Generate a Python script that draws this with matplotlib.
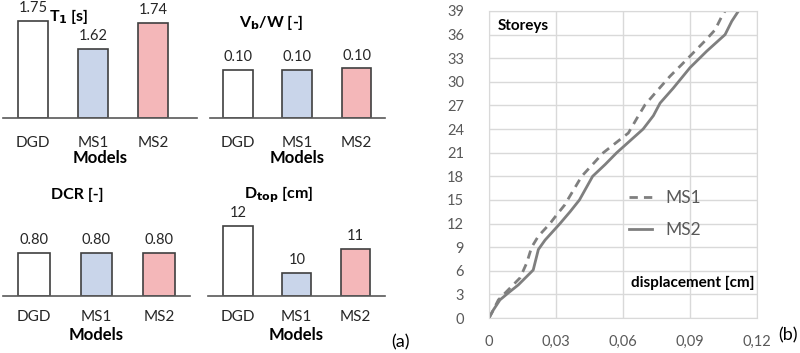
import numpy as np
import matplotlib
matplotlib.use("Agg")
import matplotlib.pyplot as plt

plt.rcParams['font.family'] = ['Lato', 'DejaVu Sans']

# bar chart data (panel a)
models = ['DGD', 'MS1', 'MS2']
t1 = [1.75, 1.62, 1.74]
vbw = [0.100, 0.101, 0.104]
dcr = [0.80, 0.80, 0.80]
dtop = [12, 10, 11]

# storey displacement profiles (panel b)
ms1_storey = [0, 1, 2.3, 3.8, 5.1, 7, 9, 10.4, 12, 13.1, 14.4, 15, 18, 21, 23.5, 25.5,
              27.1, 28.8, 30.7, 32.2, 33.7, 35.2, 36.6, 38.3, 39]
ms1_disp = [0, 0.0019, 0.0042, 0.0094, 0.0139, 0.0169, 0.0191, 0.0221, 0.0273, 0.0303,
            0.034, 0.0352, 0.0415, 0.0512, 0.0624, 0.0665, 0.0699, 0.0751, 0.081, 0.0863,
            0.0915, 0.0967, 0.1012, 0.1042, 0.1057]
ms2_storey = [0, 1, 2.3, 3.2, 4.2, 5.7, 6.1, 8.7, 9.9, 12, 13.5, 15, 18, 19.5, 21, 24,
              25.7, 27.3, 29.2, 31.8, 33.9, 36, 37.7, 39]
ms2_disp = [0, 0.0019, 0.0049, 0.0087, 0.0131, 0.0184, 0.0198, 0.0221, 0.0251, 0.0318,
            0.0363, 0.0405, 0.0464, 0.052, 0.0572, 0.069, 0.0736, 0.0766, 0.0825, 0.09,
            0.0975, 0.1057, 0.1087, 0.1117]

bar_colors = ['white', '#c9d5ea', '#f4b7b9']
edge = '#404040'

W, H = 800, 353
fig = plt.figure(figsize=(8, 3.53), dpi=100)


def px_axes(x0, y0, x1, y1):
    return fig.add_axes([x0 / W, 1 - y1 / H, (x1 - x0) / W, (y1 - y0) / H])


def bar_panel(rect, values, labels, ylim, xlim, title, title_xy, width=0.5, pad=9, lpad=0):
    ax = px_axes(*rect)
    x = np.arange(len(models))
    ax.bar(x, values, width=width, color=bar_colors, edgecolor=edge, linewidth=1.2)
    ax.set_ylim(*ylim)
    ax.set_xlim(*xlim)
    for xi, v, lab in zip(x, values, labels):
        ax.annotate(lab, (xi, v), xytext=(0, 4), textcoords='offset points',
                    ha='center', va='bottom', fontsize=10.5, color='#262626')
    for s in ['top', 'right', 'left']:
        ax.spines[s].set_visible(False)
    ax.spines['bottom'].set_color('#595959')
    ax.spines['bottom'].set_linewidth(1.2)
    ax.set_yticks([])
    ax.set_xticks(x)
    ax.set_xticklabels(models, fontsize=11, color='#262626')
    ax.tick_params(axis='x', length=0, pad=pad)
    ax.set_xlabel('Models', fontsize=12, fontweight='bold', labelpad=lpad)
    ax.patch.set_alpha(0)
    fig.text(title_xy[0] / W, 1 - title_xy[1] / H, title, ha='center', va='center',
             fontsize=11.5, fontweight='bold')
    return ax


def heights(vals, base):
    return [v - base for v in vals]


ax1 = bar_panel((3, 10, 197, 118), heights(t1, 1.3), ['%.2f' % v for v in t1],
                (0, 0.5), (-0.5, 2.73), r'T$_\mathbf{1}$ [s]', (69, 16), pad=13)
ax2 = bar_panel((210, 10, 385, 118), vbw, ['%.2f' % v for v in vbw],
                (0, 0.225), (-0.47, 2.48), r'V$_\mathbf{b}$/W [-]', (271, 22), pad=13)
ax3 = bar_panel((3, 188, 190, 296), dcr, ['%.2f' % v for v in dcr],
                (0, 2.0), (-0.5, 2.5), 'DCR [-]', (77, 195), width=0.51, pad=10, lpad=2)
ax4 = bar_panel((208, 188, 385, 296), heights(dtop, 9), ['%d' % v for v in dtop],
                (0, 4.6), (-0.51, 2.5), r'D$_\mathbf{top}$ [cm]', (279, 195), pad=10, lpad=2)

fig.text(400 / W, 1 - 342 / H, '(a)', ha='center', va='center', fontsize=13)
fig.text(788 / W, 1 - 335 / H, '(b)', ha='center', va='center', fontsize=13)

# panel b
axb = px_axes(489, 11, 757, 318)
axb.plot(ms1_disp, ms1_storey, color='#7f7f7f', linewidth=2, linestyle=(0, (3, 2.2)), label='MS1')
axb.plot(ms2_disp, ms2_storey, color='#7f7f7f', linewidth=2, label='MS2')
axb.set_xlim(0, 0.12)
axb.set_ylim(0, 39)
axb.set_xticks([0, 0.03, 0.06, 0.09, 0.12])
axb.set_xticklabels(['0', '0,03', '0,06', '0,09', '0,12'])
axb.set_yticks(np.arange(0, 40, 3))
axb.grid(True, color='#d9d9d9', linewidth=1)
axb.set_axisbelow(True)
for s in axb.spines.values():
    s.set_color('#d9d9d9')
axb.tick_params(length=0, labelsize=10.5, labelcolor='#595959')
axb.tick_params(axis='y', pad=18)
axb.tick_params(axis='x', pad=12)
axb.text(0.034, 0.975, 'Storeys', transform=axb.transAxes, ha='left', va='top',
         fontsize=11, fontweight='bold')
axb.text(0.99, 0.115, 'displacement [cm]', transform=axb.transAxes, ha='right', va='center',
         fontsize=11, fontweight='bold')
leg = axb.legend(loc='center', bbox_to_anchor=(0.657, 0.339), frameon=False, fontsize=12.5,
                 handlelength=1.3, handletextpad=0.8, labelspacing=0.9)
for t in leg.get_texts():
    t.set_color('#595959')

fig.savefig('out.png', dpi=100)
